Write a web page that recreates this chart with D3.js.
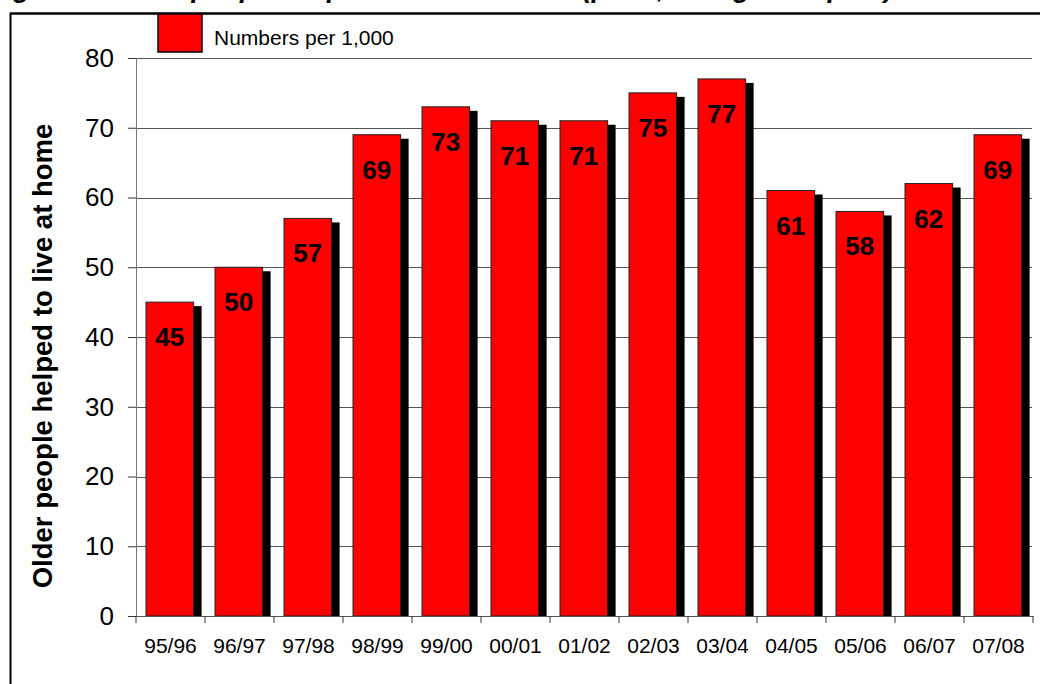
<!DOCTYPE html>
<html>
<head>
<meta charset="utf-8">
<script src="https://cdn.jsdelivr.net/npm/d3@7"></script>
<style>
  body { margin: 0; background: #fff; }
  svg { display: block; font-family: "Liberation Sans", Arial, sans-serif; }
</style>
</head>
<body>
<svg id="chart" width="1040" height="684"></svg>
<script>
// data
const years = ["95/96", "96/97", "97/98", "98/99", "99/00", "00/01", "01/02",
               "02/03", "03/04", "04/05", "05/06", "06/07", "07/08"];
const perThousand = [45, 50, 57, 69, 73, 71, 71, 75, 77, 61, 58, 62, 69];
const yTicks = [0, 10, 20, 30, 40, 50, 60, 70, 80];

const svg = d3.select("#chart");

const plotLeft = 136, plotRight = 1033, plotTop = 58, plotBottom = 616;

const x = d3.scaleBand().domain(years).range([plotLeft, plotRight]).paddingInner(0).paddingOuter(0);
const y = d3.scaleLinear().domain([0, 80]).range([plotBottom, plotTop]);

// title, cut off at the top edge: only the descenders show
svg.append("text")
    .attr("x", -11)
    .attr("y", -3)
    .style("font-size", "27.4px")
    .style("font-weight", "bold")
    .style("font-style", "italic")
    .text("Figure 2: Older people helped to live at home (per 1,000 aged 65 plus)");

// outer frame
svg.append("line").attr("x1", 10).attr("x2", 1040).attr("y1", 13.5).attr("y2", 13.5)
    .attr("stroke", "#000").attr("stroke-width", 2.5);
svg.append("line").attr("x1", 10.5).attr("x2", 10.5).attr("y1", 13).attr("y2", 684)
    .attr("stroke", "#000").attr("stroke-width", 2);

// gridlines
svg.append("g").selectAll("line")
    .data(yTicks.filter(d => d > 0))
    .join("line")
    .attr("x1", plotLeft).attr("x2", plotRight - 1)
    .attr("y1", d => Math.round(y(d)) + 0.5).attr("y2", d => Math.round(y(d)) + 0.5)
    .attr("stroke", "#555").attr("stroke-width", 1);

// y axis
const yAxis = svg.append("g")
    .attr("transform", `translate(${plotLeft},0)`)
    .call(d3.axisLeft(y).tickValues(yTicks).tickSize(8).tickPadding(14));
yAxis.select(".domain").attr("stroke", "#777");
yAxis.selectAll(".tick line").attr("stroke", "#333");
yAxis.selectAll("text").style("font-size", "26px").attr("fill", "#000")
    .attr("font-family", null);

// bars: shadow first, then red bar
const bw = x.bandwidth();
const barX = d => x(d) + bw * 0.145;
const barW = bw * 0.69;
const rows = years.map((c, i) => ({ c, v: perThousand[i] }));

svg.append("g").selectAll("rect")
    .data(rows)
    .join("rect")
    .attr("x", d => barX(d.c) + 8)
    .attr("y", d => y(d.v) + 4)
    .attr("width", barW)
    .attr("height", d => plotBottom - y(d.v) - 4)
    .attr("fill", "#000");

svg.append("g").selectAll("rect")
    .data(rows)
    .join("rect")
    .attr("x", d => barX(d.c))
    .attr("y", d => y(d.v))
    .attr("width", barW)
    .attr("height", d => plotBottom - y(d.v))
    .attr("fill", "#ff0000")
    .attr("stroke", "#222")
    .attr("stroke-width", 1);

// value labels inside the bar tops
svg.append("g").selectAll("text")
    .data(rows)
    .join("text")
    .attr("x", d => barX(d.c) + barW / 2)
    .attr("y", d => y(d.v) + 44)
    .attr("text-anchor", "middle")
    .style("font-size", "26px")
    .style("font-weight", "bold")
    .text(d => d.v);

// x axis
const xAxis = svg.append("g")
    .attr("transform", `translate(0,${plotBottom})`)
    .call(d3.axisBottom(x).tickSize(0).tickPadding(22));
xAxis.select(".domain").attr("stroke", "#555");
xAxis.selectAll("text").style("font-size", "21px").attr("fill", "#000")
    .attr("font-family", null);
// category separator ticks
svg.append("g").selectAll("line")
    .data(d3.range(years.length + 1))
    .join("line")
    .attr("x1", i => plotLeft + i * bw).attr("x2", i => plotLeft + i * bw)
    .attr("y1", plotBottom).attr("y2", plotBottom + 7)
    .attr("stroke", "#333");

// y axis title
svg.append("text")
    .attr("transform", "translate(52,356) rotate(-90)")
    .attr("text-anchor", "middle")
    .style("font-size", "27.5px")
    .style("font-weight", "bold")
    .text("Older people helped to live at home");

// legend
svg.append("rect")
    .attr("x", 158).attr("y", 14).attr("width", 44).attr("height", 38)
    .attr("fill", "#ff0000").attr("stroke", "#000").attr("stroke-width", 1.5);
svg.append("text")
    .attr("x", 214).attr("y", 45)
    .style("font-size", "21px")
    .text("Numbers per 1,000");
</script>
</body>
</html>
